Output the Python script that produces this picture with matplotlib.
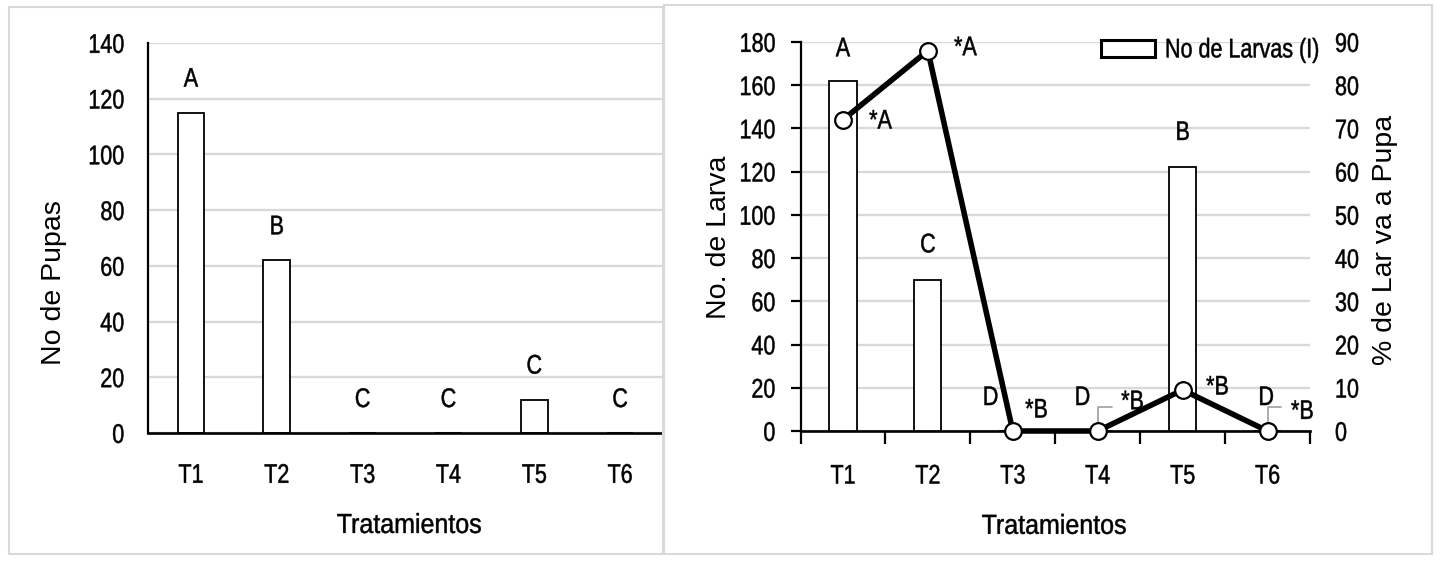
import matplotlib
matplotlib.use("Agg")
import matplotlib.pyplot as plt
from matplotlib.patches import Rectangle
from matplotlib.patheffects import AbstractPathEffect
from matplotlib.transforms import Affine2D

# ---------------- data ----------------
categories = ["T1", "T2", "T3", "T4", "T5", "T6"]
pupas = [115, 62, 0, 0, 12, 0]
pupas_letters = ["A", "B", "C", "C", "C", "C"]
larvas = [162, 70, 0, 0, 122, 0]
larvas_letters = ["A", "C", "D", "D", "B", "D"]
pct_larva_pupa = [72, 88, 0, 0, 9.5, 0]
pct_letters = ["*A", "*A", "*B", "*B", "*B", "*B"]


class VStretch(AbstractPathEffect):
    """Stretch text vertically (in display space) about its own centre."""

    def __init__(self, s, lw=0.35):
        super().__init__()
        self.s = s
        self.lw = lw

    def draw_path(self, renderer, gc, tpath, affine, rgbFace=None):
        ext = tpath.get_extents()
        cx, cy = affine.transform([((ext.x0 + ext.x1) / 2, (ext.y0 + ext.y1) / 2)])[0]
        new = affine + Affine2D().translate(-cx, -cy).scale(1, self.s).translate(cx, cy)
        gc0 = renderer.new_gc()
        gc0.copy_properties(gc)
        gc0.set_linewidth(self.lw)
        if rgbFace is not None:
            gc0.set_foreground(rgbFace)
        renderer.draw_path(gc0, tpath, new, rgbFace)
        gc0.restore()


FONT = "Liberation Sans"
TICK_FS = 15.5
STR = 1.25
XLAB_FS = 18
YLAB_FS = 20.5
plt.rcParams["font.family"] = [FONT, "DejaVu Sans"]


def stretch(texts, s=STR, lw=0.35):
    for t in texts:
        t.set_path_effects([VStretch(s, lw)])


fig = plt.figure(figsize=(14.42, 5.8), dpi=100)
W, H = 1442, 580


def fx(px):
    return px / W


def fy(py):
    return 1 - py / H


# panel borders
fig.patches.append(Rectangle((fx(9), fy(554)), fx(654), (554 - 7) / H,
                             transform=fig.transFigure, fill=False,
                             edgecolor="#d9d9d9", lw=1.5))
fig.patches.append(Rectangle((fx(664), fy(554)), fx(768), (554 - 5) / H,
                             transform=fig.transFigure, fill=False,
                             edgecolor="#d9d9d9", lw=1.5))

grid_c = "#d9d9d9"
x = list(range(len(categories)))

# ---------------- left panel ----------------
ax1 = fig.add_axes([fx(148), fy(433), fx(663 - 148), (433 - 43) / H])
ax1.bar(x, pupas, width=0.31, color="white", edgecolor="black", lw=1.3, zorder=3)
ax1.set_xlim(-0.5, 5.5)
ax1.set_ylim(0, 140)
ax1.set_yticks(range(0, 141, 20))
ax1.yaxis.grid(True, color=grid_c, lw=1.7, zorder=0)
ax1.set_axisbelow(True)
for s in ["top", "right"]:
    ax1.spines[s].set_visible(False)
ax1.spines["left"].set_linewidth(1.6)
ax1.spines["bottom"].set_linewidth(1.9)
ax1.spines["bottom"].set_zorder(4)
ax1.set_xticks(x)
ax1.set_xticklabels(categories)
ax1.tick_params(axis="both", length=0, labelsize=TICK_FS)
ax1.tick_params(axis="y", pad=17)
ax1.tick_params(axis="x", pad=23)
stretch(ax1.get_xticklabels() + ax1.get_yticklabels())
for i, (v, lt) in enumerate(zip(pupas, pupas_letters)):
    t = ax1.annotate(lt, (i, v), xytext=(0, 24), textcoords="offset points",
                     ha="center", va="center", fontsize=TICK_FS)
    stretch([t])
ax1.set_ylabel("No de Pupas", fontsize=YLAB_FS)
ax1.yaxis.set_label_coords(-0.182, 0.386)
ax1.yaxis.label.set_va("center")
ax1.set_xlabel("Tratamientos", fontsize=XLAB_FS)
ax1.xaxis.set_label_coords(0.507, -0.236)
ax1.xaxis.label.set_va("center")
stretch([ax1.xaxis.label], 1.1)

# ---------------- right panel ----------------
ax2 = fig.add_axes([fx(800.5), fy(431), fx(1310 - 800.5), (431 - 42) / H])
bars = ax2.bar(x, larvas, width=0.32, color="white", edgecolor="black", lw=1.3,
               zorder=3, label="No de Larvas (I)")
ax2.set_xlim(-0.5, 5.5)
ax2.set_ylim(0, 180)
ax2.set_yticks(range(0, 181, 20))
ax2.yaxis.grid(True, color=grid_c, lw=1.7, zorder=0)
ax2.set_axisbelow(True)
for s in ["top", "right"]:
    ax2.spines[s].set_visible(False)
ax2.spines["left"].set_linewidth(1.6)
ax2.spines["bottom"].set_linewidth(1.9)
ax2.set_xticks([i - 0.5 for i in range(len(categories) + 1)])
ax2.set_xticklabels([])
ax2.set_xticks(x, minor=True)
ax2.set_xticklabels(categories, minor=True)
ax2.tick_params(axis="x", which="major", length=9, width=1.6, direction="out")
ax2.tick_params(axis="x", which="minor", length=0, pad=25, labelsize=TICK_FS)
ax2.tick_params(axis="y", length=7, width=1.6, labelsize=TICK_FS, pad=11)
stretch(ax2.get_xticklabels(minor=True) + ax2.get_yticklabels())
ax2.set_ylabel("No. de Larva", fontsize=YLAB_FS)
ax2.yaxis.set_label_coords(-0.16, 0.499)
ax2.yaxis.label.set_va("center")
ax2.set_xlabel("Tratamientos", fontsize=XLAB_FS)
ax2.xaxis.set_label_coords(0.4975, -0.244)
ax2.xaxis.label.set_va("center")
stretch([ax2.xaxis.label], 1.1)

bar_letter_off = [(0, 23), (0, 25), (-16, 24), (-11, 24), (0, 25), (-1, 24)]
for i, (v, lt) in enumerate(zip(larvas, larvas_letters)):
    t = ax2.annotate(lt, (i, v), xytext=bar_letter_off[i], textcoords="offset points",
                     ha="center", va="center", fontsize=TICK_FS)
    stretch([t])

ax3 = ax2.twinx()
ax3.set_ylim(0, 90)
ax3.set_yticks(range(0, 91, 10))
ax3.plot(x, pct_larva_pupa, color="black", lw=4.0, marker="o", markersize=12,
         markerfacecolor="white", markeredgecolor="black", markeredgewidth=1.6,
         zorder=5, clip_on=False)
for s in ["top", "right", "left", "bottom"]:
    ax3.spines[s].set_visible(False)
ax3.tick_params(axis="y", length=0, labelsize=TICK_FS, pad=18)
stretch(ax3.get_yticklabels())
ax3.set_ylabel("% de Lar va a Pupa", fontsize=YLAB_FS)
ax3.yaxis.set_label_coords(1.147, 0.491)
ax3.yaxis.label.set_va("center")

star_off = [(27, -1), (27, 2), (17, 15), (25, 21), (25, 2), (25, 14)]
leader = [False, False, False, True, False, True]
for i, (v, lt) in enumerate(zip(pct_larva_pupa, pct_letters)):
    t = ax3.annotate(lt, (i, v), xytext=star_off[i], textcoords="offset points",
                     ha="center", va="center", fontsize=TICK_FS, zorder=6)
    stretch([t])
    if leader[i]:
        ax3.annotate("", (i, v), xytext=(10, 17), textcoords="offset points",
                     arrowprops=dict(arrowstyle="-", color="#a6a6a6", lw=1.3,
                                     connectionstyle="angle,angleA=0,angleB=90,rad=0",
                                     shrinkA=0, shrinkB=6))

leg = ax2.legend(handles=[bars], loc="upper right",
                 bbox_to_anchor=(fx(1319), fy(40)), bbox_transform=fig.transFigure,
                 frameon=False, fontsize=TICK_FS, handlelength=2.5, handleheight=0.8,
                 handletextpad=0.45, borderaxespad=0, borderpad=0)
stretch(leg.get_texts())
for p in leg.get_patches():
    p.set_linewidth(2.2)
leg.set_zorder(10)

fig.savefig("out.png", dpi=100)
